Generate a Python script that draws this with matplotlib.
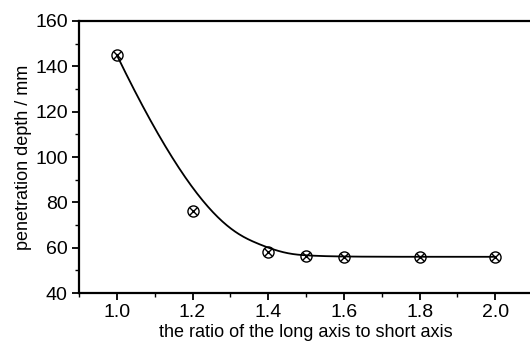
import numpy as np
import matplotlib
matplotlib.use("Agg")
import matplotlib.pyplot as plt
from matplotlib.ticker import MultipleLocator, FormatStrFormatter

ratio = [1.0, 1.2, 1.4, 1.5, 1.6, 1.8, 2.0]
depth = [145, 76, 58, 56.5, 56, 56, 56]

plt.rcParams["font.family"] = ["Liberation Sans", "DejaVu Sans"]


def bspline(px, py, k=3, n=400):
    # clamped B-spline using the data points as control points
    m = len(px)
    inner = np.arange(1, m - k)
    knots = np.concatenate([np.zeros(k + 1), inner, np.full(k + 1, m - k)]).astype(float)
    u = np.linspace(0, m - k, n)
    u[-1] -= 1e-9
    basis = np.zeros((n, len(knots) - 1))
    for i in range(len(knots) - 1):
        basis[:, i] = (knots[i] <= u) & (u < knots[i + 1])
    for d in range(1, k + 1):
        new = np.zeros((n, len(knots) - 1 - d))
        for i in range(len(knots) - 1 - d):
            a = knots[i + d] - knots[i]
            b = knots[i + d + 1] - knots[i + 1]
            left = (u - knots[i]) / a * basis[:, i] if a > 0 else 0
            right = (knots[i + d + 1] - u) / b * basis[:, i + 1] if b > 0 else 0
            new[:, i] = left + right
        basis = new
    return basis @ np.asarray(px, float), basis @ np.asarray(py, float)


xs, ys = bspline(ratio, depth)

fig = plt.figure(figsize=(5.30, 3.44), dpi=100)
ax = fig.add_axes([0.149, 0.148, 0.857, 0.791])

ax.plot(xs, ys, color="black", lw=1.3)
ax.plot(ratio, depth, ls="none", marker="o", ms=8, mfc="none", mec="black", mew=1.0)
ax.plot(ratio, depth, ls="none", marker="x", ms=5.8, mec="black", mew=1.0)

ax.set_xlim(0.9, 2.1)
ax.set_ylim(40, 160)
ax.xaxis.set_major_locator(MultipleLocator(0.2))
ax.xaxis.set_minor_locator(MultipleLocator(0.1))
ax.yaxis.set_major_locator(MultipleLocator(20))
ax.yaxis.set_minor_locator(MultipleLocator(10))
ax.xaxis.set_major_formatter(FormatStrFormatter("%.1f"))
ax.tick_params(which="major", direction="out", length=5, width=1.3, labelsize=14, pad=3)
ax.tick_params(which="minor", direction="out", length=3, width=1.0)
ax.tick_params(top=False, right=False)
for s in ax.spines.values():
    s.set_linewidth(1.6)

ax.set_xlabel("the ratio of the long axis to short axis", fontsize=13, labelpad=2)
ax.set_ylabel("penetration depth / mm", fontsize=13, labelpad=2)

fig.savefig("out.png", dpi=100)
